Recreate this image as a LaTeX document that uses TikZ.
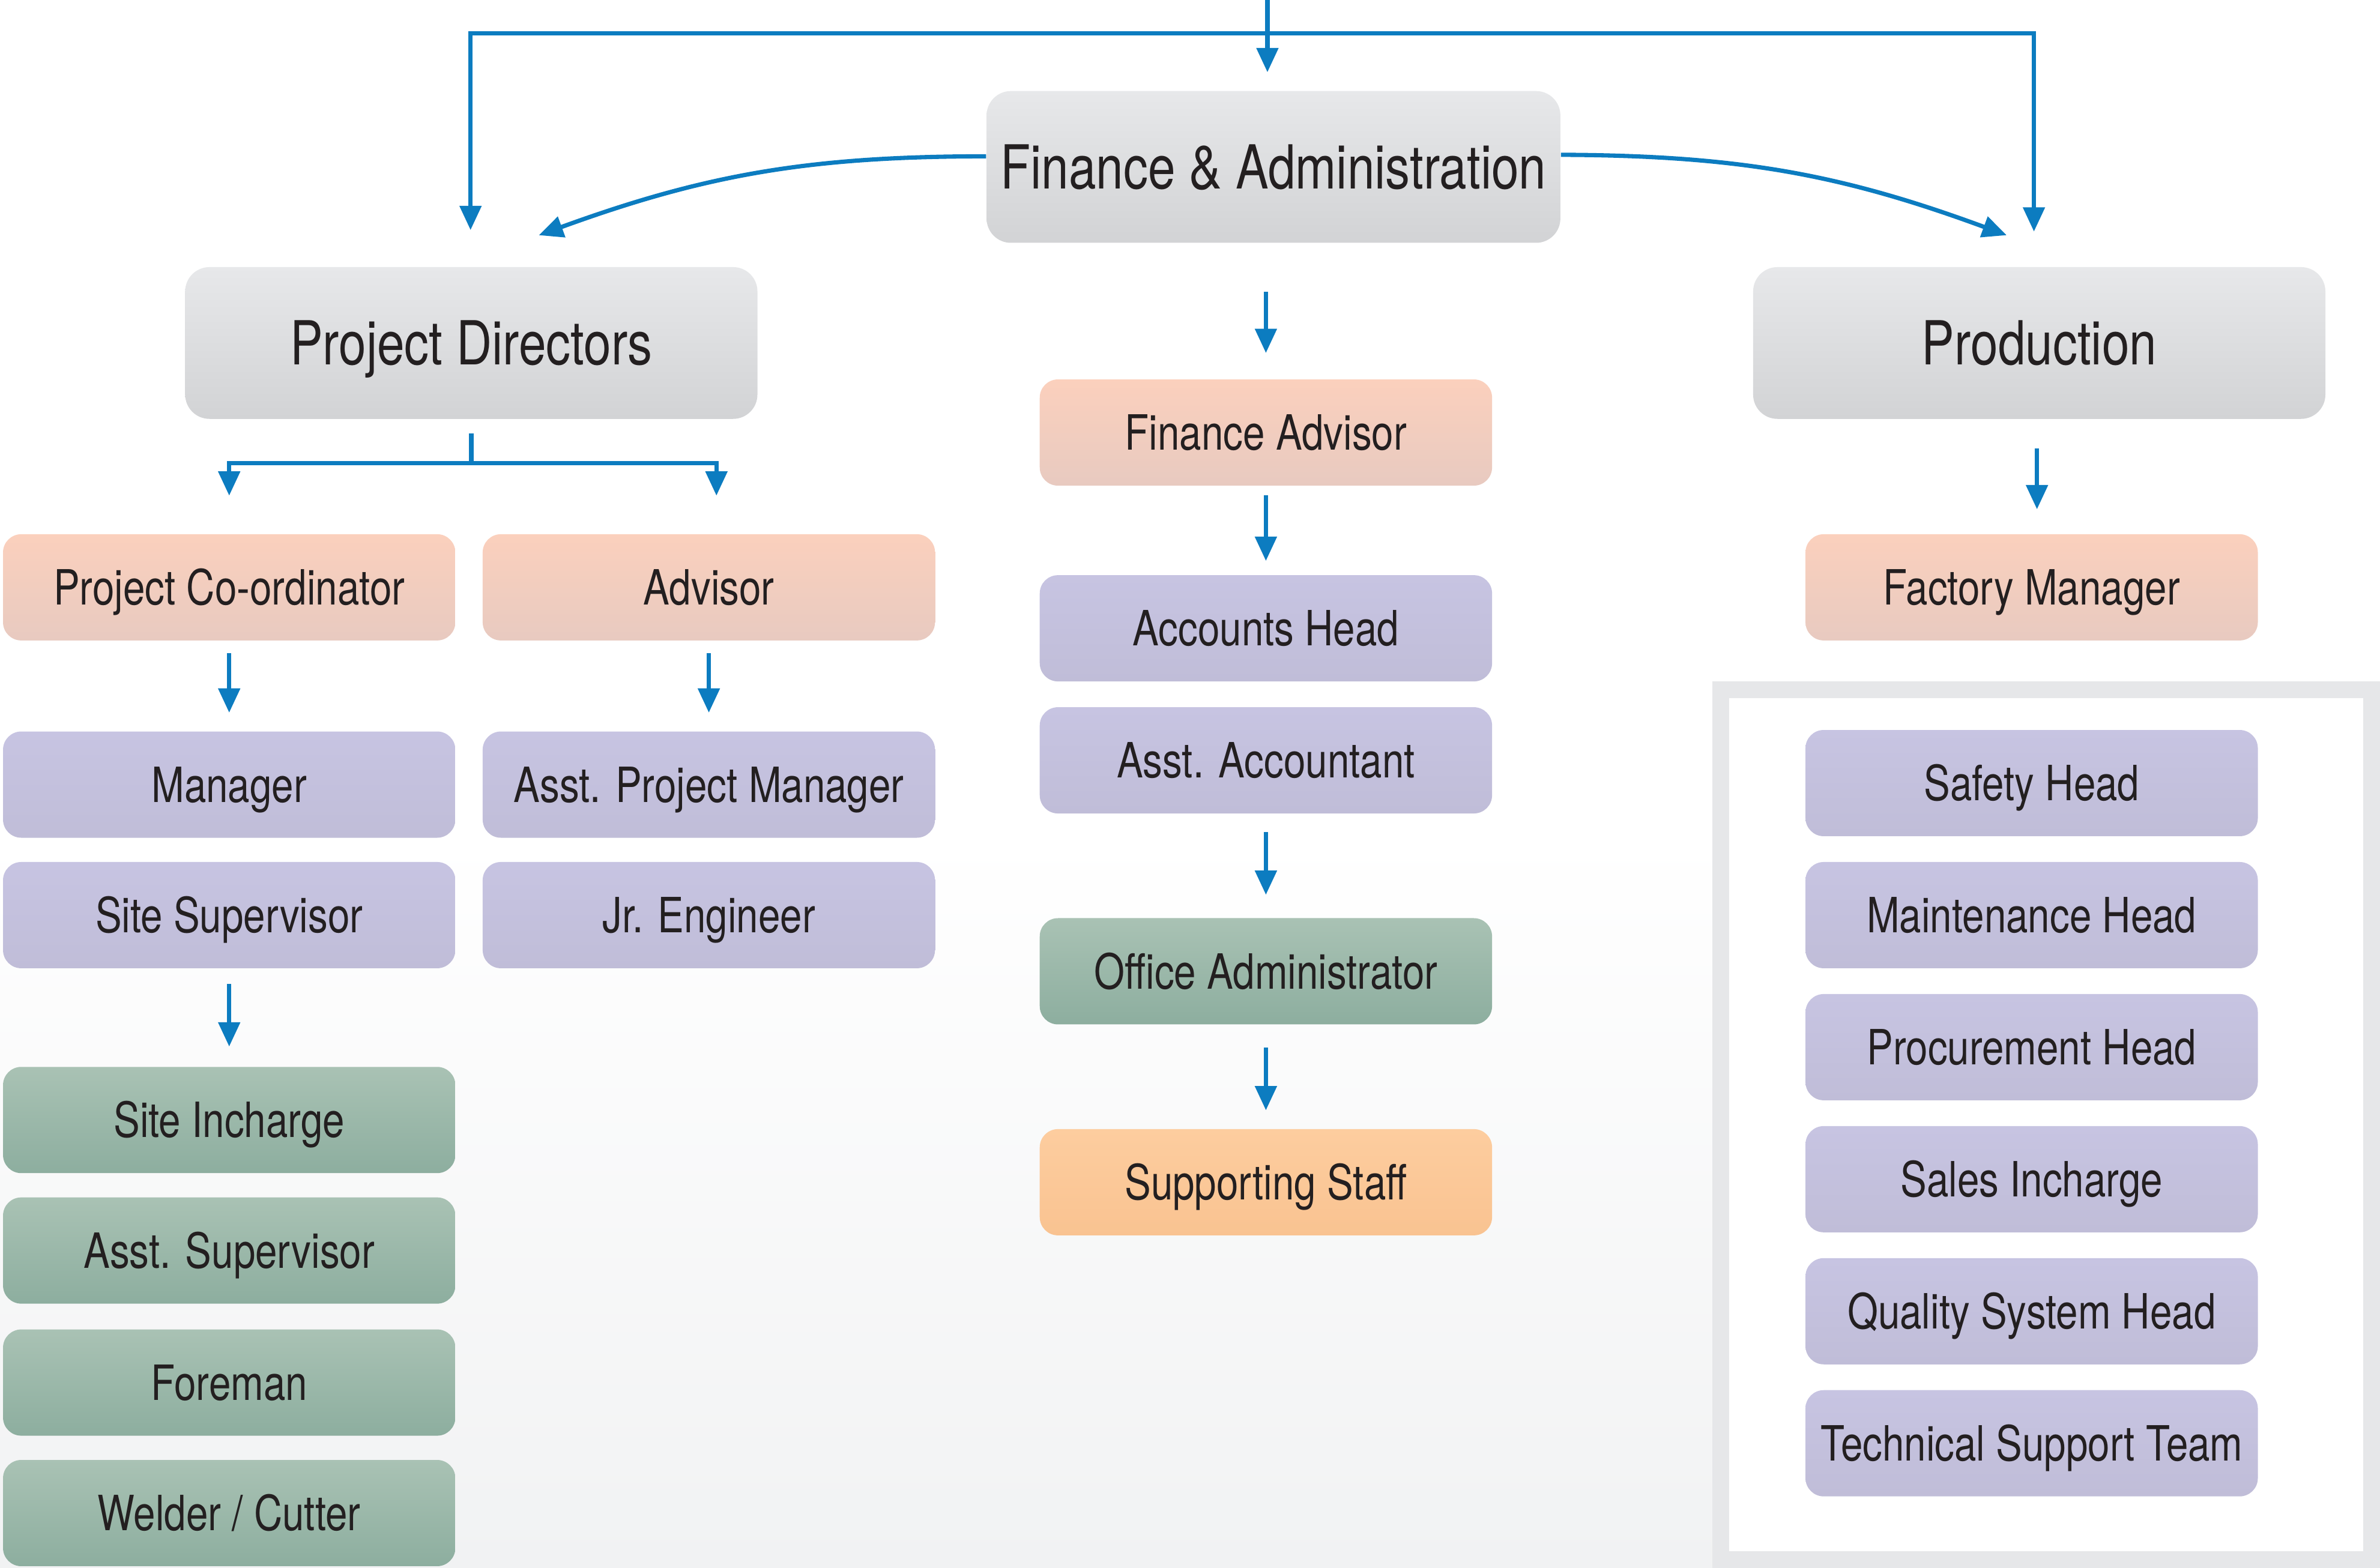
\documentclass[tikz,border=0pt]{standalone}
\usepackage{fontspec}
\setmainfont{TeX Gyre Heros}[FakeStretch=0.81]
\usetikzlibrary{arrows.meta,calc}
\definecolor{arrowblue}{HTML}{0C7CC0}
\definecolor{greyT}{HTML}{E7E8EA}
\definecolor{greyB}{HTML}{D2D3D5}
\definecolor{salmonT}{HTML}{FBD0BD}
\definecolor{salmonB}{HTML}{E8CAC0}
\definecolor{lavT}{HTML}{C7C4E2}
\definecolor{lavB}{HTML}{C0BDD8}
\definecolor{greenT}{HTML}{A9C2B4}
\definecolor{greenB}{HTML}{8DAE9F}
\definecolor{orangeT}{HTML}{FDCD9F}
\definecolor{orangeB}{HTML}{F9C391}
\definecolor{framegrey}{HTML}{E6E7E9}
\definecolor{txt}{HTML}{231F20}
\definecolor{bgbot}{HTML}{F1F2F3}
\begin{document}
\begin{tikzpicture}[x=0.5pt,y=-0.5pt,
  box/.style={rounded corners=6pt, minimum height=35pt, minimum width=149pt,
    inner sep=0pt, text=txt, font=\fontsize{16}{19}\selectfont,
    text height=11.5pt, text depth=0pt},
  bigbox/.style={box, rounded corners=8pt, minimum height=50pt,
    font=\fontsize{20}{24}\selectfont, text height=14.4pt},
  greybox/.style={top color=greyT, bottom color=greyB},
  salmonbox/.style={top color=salmonT, bottom color=salmonB},
  lavbox/.style={top color=lavT, bottom color=lavB},
  greenbox/.style={top color=greenT, bottom color=greenB},
  orangebox/.style={top color=orangeT, bottom color=orangeB},
  ln/.style={draw=arrowblue, line width=1.4pt},
  arr/.style={ln, -{Triangle[width=7pt,length=8pt]}}
]
\useasboundingbox (0,0) rectangle (1568,1033);
\fill[white] (0,0) rectangle (1568,1033);
\shade[top color=white, bottom color=bgbot] (0,550) rectangle (1568,1033);
% frame
\draw[framegrey, line width=5.5pt, fill=white] (1133.5,454.5) rectangle (1562.5,1027.5);

% top level
\node[bigbox, greybox, minimum width=189pt] (fa) at (839,110) {Finance \& Administration};
\node[bigbox, greybox, minimum width=188.5pt] (pd) at (310.5,226) {Project Directors};
\node[bigbox, greybox, minimum width=188.5pt] (prod) at (1343.5,226) {Production};

% left columns
\node[box, salmonbox] (pc) at (151,387) {Project Co-ordinator};
\node[box, salmonbox] (adv) at (467,387) {Advisor};
\node[box, lavbox] (mgr) at (151,517) {Manager};
\node[box, lavbox] (apm) at (467,517) {Asst. Project Manager};
\node[box, lavbox] (ss) at (151,603) {Site Supervisor};
\node[box, lavbox] (je) at (467,603) {Jr. Engineer};
\node[box, greenbox] (si) at (151,738) {Site Incharge};
\node[box, greenbox] (asup) at (151,824) {Asst. Supervisor};
\node[box, greenbox] (fore) at (151,911) {Foreman};
\node[box, greenbox] (weld) at (151,997) {Welder / Cutter};

% middle column
\node[box, salmonbox] (fadv) at (834,285) {Finance Advisor};
\node[box, lavbox] (ah) at (834,414) {Accounts Head};
\node[box, lavbox] (aa) at (834,501) {Asst. Accountant};
\node[box, greenbox] (oa) at (834,640) {Office Administrator};
\node[box, orangebox] (sst) at (834,779) {Supporting Staff};

% right column
\node[box, salmonbox] (fm) at (1338.5,387) {Factory Manager};
\node[box, lavbox] (safe) at (1338.5,516) {Safety Head};
\node[box, lavbox] (maint) at (1338.5,603) {Maintenance Head};
\node[box, lavbox] (proc) at (1338.5,690) {Procurement Head};
\node[box, lavbox] (sales) at (1338.5,777) {Sales Incharge};
\node[box, lavbox] (qsh) at (1338.5,864) {Quality System Head};
\node[box, lavbox] (tst) at (1338.5,951) {Technical Support Team};

% connector coordinates
\coordinate (top) at (835,0);
\coordinate (tj) at (835,22);
\coordinate (tl) at (310,22);
\coordinate (tr) at (1340,22);
\coordinate (cl) at (355,155);
\coordinate (cr) at (1322,155);
\coordinate (pdj) at (310.5,305);

% top connectors
\draw[arr, shorten >=6pt] (top) -- (top |- fa.north);
\draw[arr, shorten >=12pt] (tj) -- (tl) -- (tl |- pd.north);
\draw[arr, shorten >=11.5pt] (tj) -- (tr) -- (tr |- prod.north);
\draw[arr] ([yshift=3.5pt]fa.west) to[bend right=10] (cl);
\draw[arr] ([yshift=4pt]fa.east) to[bend left=10] (cr);

% project directors branch
\draw[ln, shorten <=4.5pt] (pd.south) -- (pdj);
\draw[arr, shorten >=12.5pt] (pdj) -| (pc.north);
\draw[arr, shorten >=12.5pt] (pdj) -| ([xshift=2.5pt]adv.north);
\draw[arr, shorten <=4pt, shorten >=6pt] (pc) -- (mgr);
\draw[arr, shorten <=4pt, shorten >=6pt] (adv) -- (apm);
\draw[arr, shorten <=5pt, shorten >=6.5pt] (ss) -- (si);

% finance branch
\draw[arr, shorten <=16pt, shorten >=8.5pt] (fa.south -| fadv.north) -- (fadv);
\draw[arr, shorten <=3pt, shorten >=4.5pt] (fadv) -- (ah);
\draw[arr, shorten <=6pt, shorten >=7.5pt] (aa) -- (oa);
\draw[arr, shorten <=7.5pt, shorten >=6pt] (oa) -- (sst);

% production branch
\draw[arr, shorten <=9.5pt, shorten >=8pt] ([xshift=-0.75pt]prod.south) -- ([xshift=-0.75pt]prod.south |- fm.north);
\end{tikzpicture}
\end{document}
